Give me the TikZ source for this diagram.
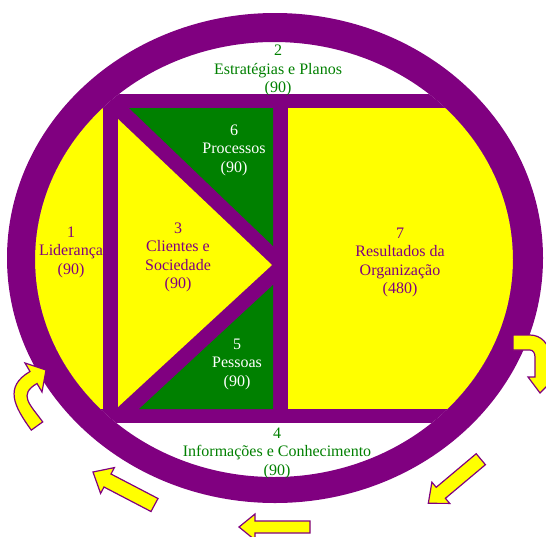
\documentclass[tikz,border=0pt]{standalone}
\usepackage{fontspec}
\setmainfont{Liberation Serif}
\definecolor{pur}{RGB}{128,0,128}
\definecolor{yel}{RGB}{255,255,0}
\definecolor{grn}{RGB}{0,128,0}
\begin{document}
\begin{tikzpicture}[x=1pt,y=-1pt,
  lbl/.style={align=center,inner sep=0pt,font=\fontsize{16}{18.5}\selectfont},
  arr/.style={fill=yel,draw=pur,line width=1.2pt,line join=miter}]
\clip (0,0) rectangle (546,536);
\fill[white] (0,0) rectangle (546,536);
% inner band and regions
\begin{scope}
  \clip (274,259.5) ellipse [x radius=239, y radius=217.5];
  \fill[pur] (0,94) rectangle (546,423);
  \fill[yel] (0,108) rectangle (103,409);
  \fill[yel] (288,108) rectangle (546,409);
\end{scope}
\fill[yel] (118,119) -- (272,265) -- (118,407) -- cycle;
\fill[grn] (129,108) -- (273,108) -- (273,246) -- cycle;
\fill[grn] (273,285) -- (273,409) -- (139,409) -- cycle;
% ring
\fill[pur,even odd rule] (275,258) ellipse [x radius=268, y radius=245]
  (274,259.5) ellipse [x radius=239, y radius=217.5];
% arrows
\draw[arr] (31.3,430.1) .. controls (13.6,405.8) and (4.1,386.7) .. (30,371.5)
  -- (25,363) -- (46,370) -- (42,392) -- (37,383.5)
  .. controls (18,394.6) and (29.7,404.1) .. (42.7,421.9) -- cycle;
\draw[arr] (513,335) -- (530,335) .. controls (541,335) and (549.5,344) .. (549.5,355)
  -- (549.5,377) -- (556,377) -- (540,393) -- (528,377) -- (535,377) -- (535,357)
  .. controls (535,353) and (533,350) .. (530,350) -- (513,350) -- cycle;
\draw[arr] (476.2,453.7) -- (436.2,487.3) -- (431.9,482.2) -- (428.3,503.3)
  -- (449.7,503.4) -- (445.4,498.3) -- (485.4,464.7) -- cycle;
\draw[arr] (310,521) -- (255,521) -- (255,514) -- (239,527) -- (255,540)
  -- (255,533) -- (310,533) -- cycle;
\draw[arr] (158.0,498.5) -- (111.0,474.0) -- (114.4,467.6) -- (93,472)
  -- (100.6,493.4) -- (104.0,487.0) -- (151.0,511.5) -- cycle;
% labels
\node[lbl,text=grn] (n2) at (278,70.5) {2\\Estratégias e Planos\\(90)};
\node[lbl,text=grn] (n4) at (277,453) {4\\Informações e Conhecimento\\(90)};
\node[lbl,text=pur] (n1) at (71,252) {1\\Liderança\\(90)};
\node[lbl,text=pur] (n3) at (178,257.5) {3\\Clientes e\\Sociedade\\(90)};
\node[lbl,text=white] (n6) at (234,150) {6\\Processos\\(90)};
\node[lbl,text=white] (n5) at (237,364) {5\\Pessoas\\(90)};
\node[lbl,text=pur] (n7) at (400,262.5) {7\\Resultados da\\Organização\\(480)};
\end{tikzpicture}
\end{document}
